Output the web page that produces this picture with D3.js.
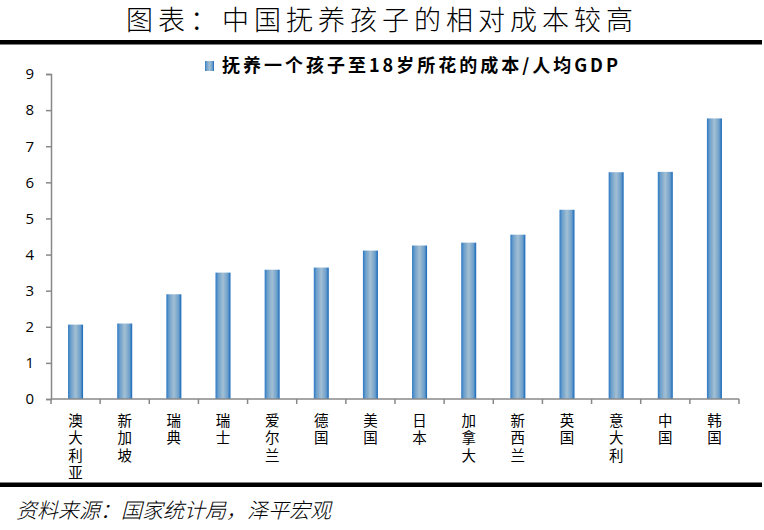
<!DOCTYPE html>
<html>
<head>
<meta charset="utf-8">
<script src="https://cdn.jsdelivr.net/npm/d3@7"></script>
<style>
  body { margin: 0; background: #fff; }
  svg { display: block; }
</style>
</head>
<body>
<div class="chart"></div>
<script>
var countries = ["澳大利亚", "新加坡", "瑞典", "瑞士", "爱尔兰", "德国", "美国", "日本", "加拿大", "新西兰", "英国", "意大利", "中国", "韩国"];
var costRatio = [2.06, 2.09, 2.90, 3.50, 3.58, 3.64, 4.11, 4.25, 4.33, 4.55, 5.24, 6.28, 6.29, 7.77];
var yTicks = [0, 1, 2, 3, 4, 5, 6, 7, 8, 9];
var seriesName = "抚养一个孩子至18岁所花的成本/人均GDP";
var title = "图表：中国抚养孩子的相对成本较高";
var source = "资料来源：国家统计局，泽平宏观";

var W = 764, H = 530;
var margin = { top: 74, right: 25, bottom: 131, left: 51 };
var width = W - margin.left - margin.right,
  height = H - margin.top - margin.bottom;
var cjk = "'Noto Sans CJK SC', 'Noto Sans', sans-serif";

var root = d3
  .select(".chart")
  .append("svg")
  .attr("width", W)
  .attr("height", H);

var defs = root.append("defs");
var grad = defs
  .append("linearGradient")
  .attr("id", "barGrad")
  .attr("x1", "0%").attr("x2", "100%")
  .attr("y1", "0%").attr("y2", "0%");
grad.append("stop").attr("offset", "0%").attr("stop-color", "#2a78c4");
grad.append("stop").attr("offset", "18%").attr("stop-color", "#6c9fcb");
grad.append("stop").attr("offset", "50%").attr("stop-color", "#a3bfd3");
grad.append("stop").attr("offset", "82%").attr("stop-color", "#6c9fcb");
grad.append("stop").attr("offset", "100%").attr("stop-color", "#1466b8");

// title + rules
root
  .append("text")
  .attr("x", W / 2)
  .attr("y", 30)
  .attr("text-anchor", "middle")
  .style("font-family", cjk)
  .style("font-size", "27px")
  .style("font-weight", 300)
  .style("letter-spacing", "5px")
  .text(title);

root.append("rect").attr("x", 0).attr("y", 40).attr("width", 762).attr("height", 4.5).attr("fill", "#000");
root.append("rect").attr("x", 0).attr("y", 482.5).attr("width", 762).attr("height", 4.5).attr("fill", "#000");

root
  .append("text")
  .attr("x", 16)
  .attr("y", 518)
  .style("font-family", cjk)
  .style("font-size", "21px")
  .style("font-style", "italic")
  .style("font-weight", 300)
  .text(source);

var svg = root
  .append("g")
  .attr("transform", "translate(" + margin.left + "," + margin.top + ")");

var x = d3.scaleBand().domain(countries).range([0, width]).paddingInner(0).paddingOuter(0);
var y = d3.scaleLinear().domain([0, 9]).range([height, 0]);
var barW = 15;

svg
  .selectAll("rect.bar")
  .data(costRatio)
  .enter()
  .append("rect")
  .attr("class", "bar")
  .attr("x", function (d, i) {
    return x(countries[i]) + x.bandwidth() / 2 - barW / 2;
  })
  .attr("y", function (d) {
    return y(d);
  })
  .attr("width", barW)
  .attr("height", function (d) {
    return height - y(d);
  })
  .attr("fill", "url(#barGrad)");

// y axis
var yAxis = svg
  .append("g")
  .call(d3.axisLeft(y).tickValues(yTicks).tickSize(5).tickPadding(12));
yAxis.select(".domain").attr("stroke", "#888").attr("stroke-width", 1.5);
yAxis.selectAll(".tick line").attr("stroke", "#888").attr("stroke-width", 1.5);
yAxis
  .selectAll(".tick text")
  .style("font-family", "'Open Sans', 'Noto Sans', sans-serif")
  .style("font-size", "15px")
  .attr("fill", "#000");

// x axis with ticks at band edges
var xAxis = svg.append("g").attr("transform", "translate(0," + height + ")");
xAxis
  .append("line")
  .attr("x1", 0)
  .attr("x2", width)
  .attr("stroke", "#888")
  .attr("stroke-width", 1.5);
xAxis
  .selectAll("line.tk")
  .data(countries.concat(["end"]))
  .enter()
  .append("line")
  .attr("class", "tk")
  .attr("x1", function (d, i) {
    return i < countries.length ? x(d) : width;
  })
  .attr("x2", function (d, i) {
    return i < countries.length ? x(d) : width;
  })
  .attr("y1", 0)
  .attr("y2", 5)
  .attr("stroke", "#888")
  .attr("stroke-width", 1.5);

// vertical labels, written top to bottom
xAxis
  .selectAll("text.lbl")
  .data(countries)
  .enter()
  .append("text")
  .attr("class", "lbl")
  .attr("x", function (d) {
    return x(d) + x.bandwidth() / 2;
  })
  .attr("y", 14)
  .style("writing-mode", "vertical-rl")
  .style("text-orientation", "upright")
  .style("letter-spacing", "3px")
  .style("font-family", cjk)
  .style("font-size", "14.5px")
  .attr("fill", "#000")
  .text(function (d) {
    return d;
  });

// legend
var legend = root.append("g").attr("transform", "translate(205,61)");
legend.append("rect").attr("width", 9).attr("height", 10).attr("fill", "url(#barGrad)");
legend
  .append("text")
  .attr("x", 17)
  .attr("y", 11)
  .style("font-family", cjk)
  .style("font-size", "18px")
  .style("font-weight", 700)
  .style("letter-spacing", "3px")
  .text(seriesName);
</script>
</body>
</html>
